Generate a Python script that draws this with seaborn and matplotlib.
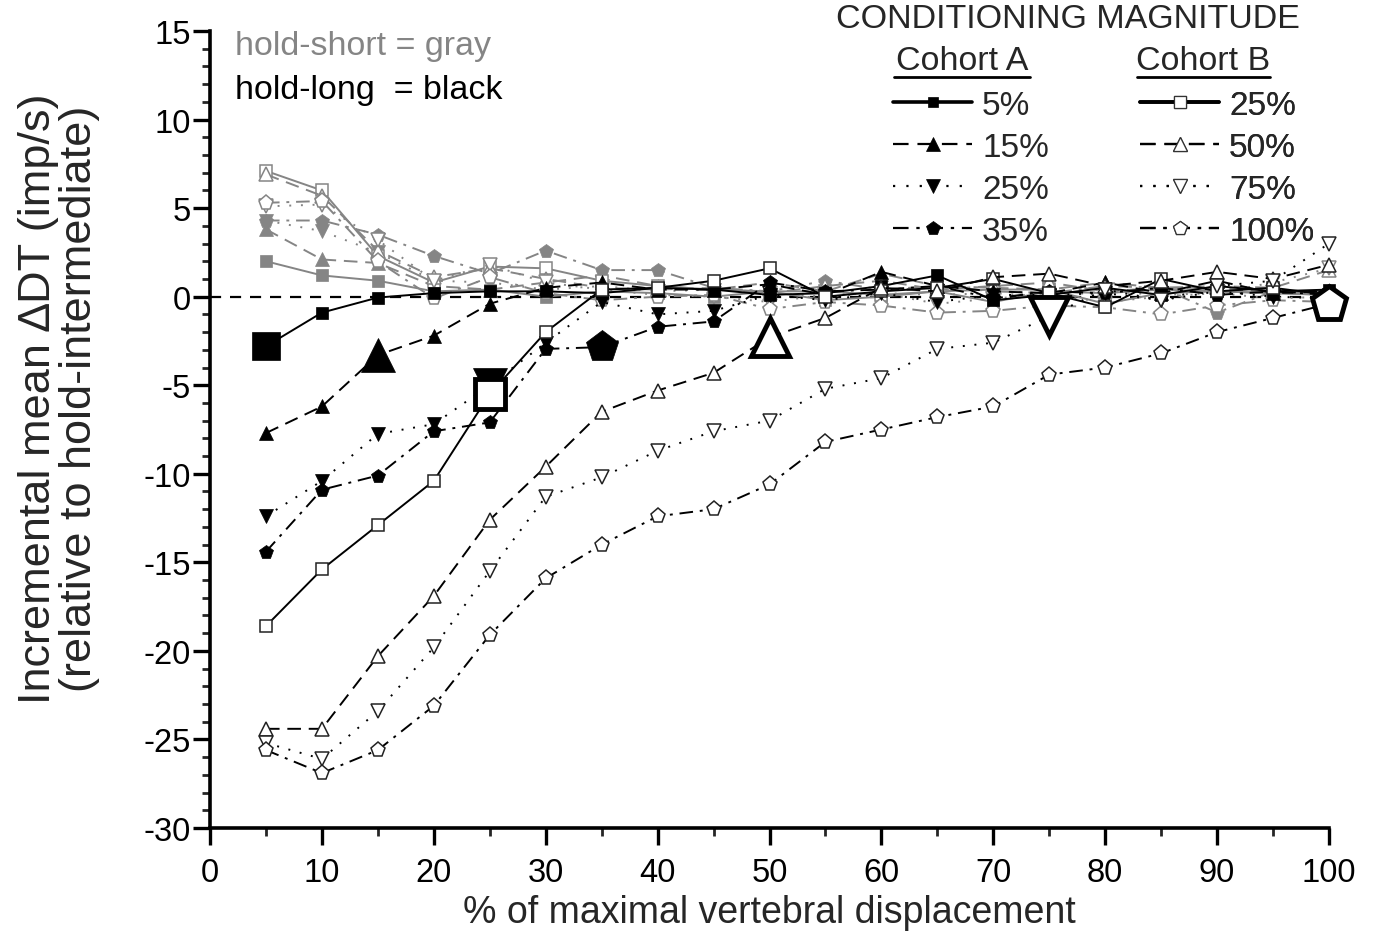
import numpy as np
import pandas as pd
import matplotlib
matplotlib.use("Agg")
import matplotlib.pyplot as plt
from matplotlib.lines import Line2D
from matplotlib.ticker import MultipleLocator
import seaborn as sns

# ---------------- data ----------------
x_disp = [5, 10, 15, 20, 25, 30, 35, 40, 45, 50, 55, 60, 65, 70, 75, 80, 85, 90, 95, 100]

series_labels = ["5%", "15%", "25%", "35%", "25%", "50%", "75%", "100%"]
cohorts = ["A", "A", "A", "A", "B", "B", "B", "B"]
cond_x = [5, 15, 25, 35, 25, 50, 75, 100]

# hold-long (black)
long_A5 = [-2.8, -0.9, -0.05, 0.2, 0.3, 0.3, 0.2, 0.5, 0.4, 0.1, 0.2, 0.6, 1.2, -0.2, 0.1, 0.5, 0.1, 0.6, 0.3, 0.4]
long_A15 = [-7.7, -6.2, -3.3, -2.2, -0.4, 0.5, 0.8, 0.4, 0.4, 0.7, 0.1, 1.4, 0.6, 0.3, 0.2, 0.8, 0.2, 0.9, 0.2, 0.3]
long_A25 = [-12.4, -10.4, -7.75, -7.2, -5.0, -2.6, -0.3, -1.0, -0.8, 0.1, -0.2, 0.2, -0.3, 0.1, 0.1, 0.2, -0.2, 0.3, 0.0, -0.1]
long_A35 = [-14.4, -10.9, -10.1, -7.6, -7.1, -2.95, -2.85, -1.7, -1.4, 0.8, 0.3, 0.4, 0.6, -0.1, 0.3, 0.2, 0.5, 0.1, 0.3, 0.1]
long_B25 = [-18.6, -15.4, -12.9, -10.4, -5.5, -2.0, 0.4, 0.5, 0.9, 1.6, 0.0, 0.3, 0.5, 1.0, 0.2, -0.6, 1.0, 0.3, 0.5, 0.1]
long_B50 = [-24.4, -24.4, -20.3, -16.9, -12.6, -9.6, -6.5, -5.3, -4.3, -2.3, -1.2, 0.5, 0.3, 1.1, 1.3, 0.6, 0.9, 1.4, 1.0, 1.8]
long_B75 = [-25.2, -26.1, -23.4, -19.8, -15.5, -11.3, -10.2, -8.7, -7.6, -7.0, -5.2, -4.6, -2.95, -2.6, -1.1, 0.4, -0.2, 0.6, 0.9, 3.0]
long_B100 = [-25.6, -26.9, -25.6, -23.1, -19.1, -15.9, -14.0, -12.4, -12.0, -10.6, -8.2, -7.5, -6.8, -6.2, -4.4, -4.0, -3.2, -2.0, -1.2, -0.4]

# hold-short (gray)
short_A5 = [2.0, 1.2, 0.9, 0.3, 0.4, 0.0, 0.3, 0.2, 0.0, 0.3, -0.2, 0.0, 0.3, -0.3, 0.3, 0.2, 0.4, 0.3, 0.2, 0.1]
short_A15 = [3.8, 2.1, 1.9, 0.6, 0.4, 0.8, 1.2, 0.6, 0.4, 0.8, 0.3, 1.3, 0.6, 0.5, 0.4, 0.8, 0.5, 0.5, 0.2, 0.3]
short_A25 = [4.3, 3.7, 2.5, 0.9, 0.8, 0.4, 0.6, 0.3, 0.4, 0.2, 0.0, 0.2, 0.1, 0.2, 0.0, 0.3, 0.1, 0.2, -0.1, 0.0]
short_A35 = [4.3, 4.3, 3.5, 2.3, 1.3, 2.6, 1.5, 1.5, 0.5, 0.3, 0.9, 0.4, 0.6, 0.3, 0.2, 0.6, 0.5, -0.9, 0.3, 0.2]
short_B25 = [7.1, 6.0, 2.3, 0.8, 1.7, 1.6, 0.9, 0.6, 0.4, 0.3, 0.3, 0.1, 0.3, 0.4, 0.4, -0.4, 0.2, 0.3, 0.2, 0.1]
short_B50 = [6.9, 5.7, 2.6, 1.1, 1.6, 1.0, 0.5, 0.4, 0.5, 0.2, 0.6, 0.9, 0.4, 0.6, 0.8, 0.3, 0.5, 0.6, 0.5, 1.5]
short_B75 = [5.1, 5.2, 3.2, 0.9, 1.8, 0.8, 0.4, 0.1, 0.0, -0.3, 0.1, 0.2, -0.4, -0.1, 0.1, -0.3, 0.0, 0.2, 0.8, 1.6]
short_B100 = [5.3, 5.4, 2.0, -0.1, 1.1, 0.2, -0.2, 0.0, 0.1, -0.7, -0.3, -0.5, -0.9, -0.8, -0.5, -0.6, -1.0, -0.5, -0.2, -0.3]

long_series = [long_A5, long_A15, long_A25, long_A35, long_B25, long_B50, long_B75, long_B100]
short_series = [short_A5, short_A15, short_A25, short_A35, short_B25, short_B50, short_B75, short_B100]

x_ticks = [0, 10, 20, 30, 40, 50, 60, 70, 80, 90, 100]
y_ticks = [-30, -25, -20, -15, -10, -5, 0, 5, 10, 15]

# ---------------- style ----------------
sns.set_style("ticks")
plt.rcParams["font.family"] = ["Liberation Sans", "DejaVu Sans"]
plt.rcParams["axes.unicode_minus"] = False

GRAY = "#858585"
markers = ["s", "^", "v", "p", "s", "^", "v", "p"]
msizes = [8, 10, 10, 10.5, 8.5, 10.5, 10.5, 11]
big_sizes = [20, 25, 25, 24, 21, 27, 27, 26]
lstyles = ["-", (0, (7, 4)), (0, (1, 5)), (0, (7, 3.5, 1.5, 3.5)),
           "-", (0, (7, 4)), (0, (1, 5)), (0, (7, 3.5, 1.5, 3.5))]

fig = plt.figure(figsize=(13.75, 9.45), dpi=100)
W, H = 1375, 945
ax = fig.add_axes([210 / W, 1 - 829 / H, (1329 - 210) / W, (829 - 32) / H])

ax.axhline(0, color="black", lw=1.6, ls=(0, (5, 4)), zorder=1)

def draw(vals, i, color, z):
    opened = cohorts[i] == "B"
    fc = "white" if opened else color
    ec = color if color != "black" else ("#222222" if opened else "black")
    sns.lineplot(x=x_disp, y=vals, ax=ax, color=color, linestyle=lstyles[i], lw=1.4,
                 marker=markers[i], markersize=msizes[i], markerfacecolor=fc,
                 markeredgecolor=ec, markeredgewidth=1.1 if opened else 0.5,
                 clip_on=False, zorder=z, legend=False, errorbar=None)

for i, vals in enumerate(short_series):
    draw(vals, i, GRAY, 3)
for i, vals in enumerate(long_series):
    draw(vals, i, "black", 4)

# large markers at the conditioning magnitude (hold-long)
for i, vals in enumerate(long_series):
    cx = cond_x[i]
    cy = vals[x_disp.index(cx)]
    opened = cohorts[i] == "B"
    sns.lineplot(x=[cx], y=[cy], ax=ax, color="black", lw=0, marker=markers[i],
                 markersize=big_sizes[i], markerfacecolor="white" if opened else "black",
                 markeredgecolor="black", markeredgewidth=3.5 if opened else 0.5,
                 clip_on=False, zorder=6, legend=False, errorbar=None)

ax.set_xlim(0, 100)
ax.set_ylim(-30, 15)
ax.set_xticks(x_ticks)
ax.set_yticks(y_ticks)
ax.xaxis.set_minor_locator(MultipleLocator(5))
ax.yaxis.set_minor_locator(MultipleLocator(1))
ax.tick_params(axis="both", which="major", direction="out", length=12, width=2.4,
               labelsize=23.5, colors="black")
ax.tick_params(axis="both", which="minor", direction="out", length=6, width=2)
ax.tick_params(axis="x", which="major", pad=9)
ax.tick_params(axis="y", which="major", pad=2)
for s in ["top", "right"]:
    ax.spines[s].set_visible(False)
for s in ["left", "bottom"]:
    ax.spines[s].set_linewidth(2.6)
    ax.spines[s].set_color("black")

ax.set_xlabel("% of maximal vertebral displacement", fontsize=27)
ax.xaxis.set_label_coords(0.5, -0.083)
ax.xaxis.label.set_va("top")
ax.set_ylabel("Incremental mean \u2206DT (imp/s)\n(relative to hold-intermediate)",
              fontsize=32.5, linespacing=1.0)
ax.yaxis.set_label_coords(-0.098, 0.54)

# annotations
fig.text(235 / W, 1 - 47 / H, "hold-short = gray", color=GRAY, fontsize=24.5, va="center", ha="left")
fig.text(235 / W, 1 - 90 / H, "hold-long  = black", color="black", fontsize=24.5, va="center", ha="left")

fig.text(1068 / W, 1 - 20 / H, "CONDITIONING MAGNITUDE", fontsize=24.5, ha="center", va="center")
for cx, x0, x1, name in [(962, 894, 1030, "Cohort A"), (1203, 1137, 1270, "Cohort B")]:
    fig.text(cx / W, 1 - 62 / H, name, fontsize=24.5, ha="center", va="center")
    fig.add_artist(Line2D([x0 / W, x1 / W], [1 - 78 / H, 1 - 78 / H], color="black",
                          lw=2, transform=fig.transFigure))

def make_handles(idx):
    hs = []
    for i in idx:
        opened = cohorts[i] == "B"
        hs.append(Line2D([], [], color="black", ls=lstyles[i], lw=2.6 if lstyles[i] == "-" else 1.6,
                         marker=markers[i], markersize=msizes[i] * 0.95,
                         markerfacecolor="white" if opened else "black",
                         markeredgecolor="#333333" if opened else "black",
                         markeredgewidth=0.9 if opened else 0.5))
    return hs

for idx, x_left in [([0, 1, 2, 3], 893), ([4, 5, 6, 7], 1140)]:
    leg = ax.legend(handles=make_handles(idx), labels=[series_labels[i] for i in idx],
                    loc="upper left", bbox_to_anchor=(x_left / W, 1 - 91 / H),
                    bbox_transform=fig.transFigure, frameon=False, fontsize=24,
                    numpoints=1, handlelength=2.37, handletextpad=0.3,
                    labelspacing=0.33, borderpad=0, borderaxespad=0)
    ax.add_artist(leg)

fig.savefig("out.png", dpi=100)
